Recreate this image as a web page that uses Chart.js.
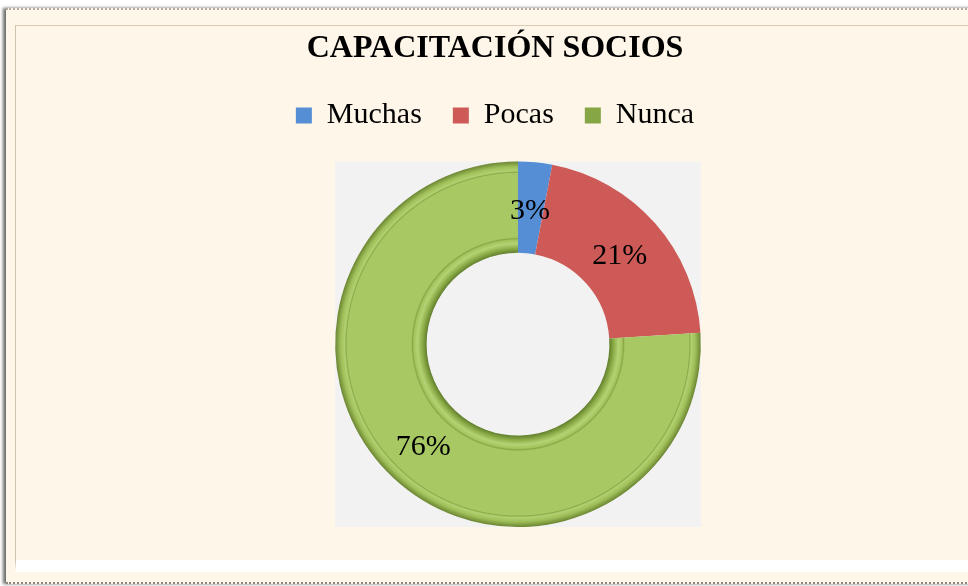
<!DOCTYPE html>
<html>
<head>
<meta charset="utf-8">
<script src="https://cdn.jsdelivr.net/npm/chart.js@4"></script>
<style>
	html, body { margin: 0; padding: 0; background: #ffffff; width: 968px; height: 586px; overflow: hidden; }
	#frame {
		position: absolute; left: 6px; top: 8px; width: 980px; height: 572px;
		background: #fef6e8;
		border-top: 2px dotted #b0aaa4;
		border-bottom: 2px dotted #8c8782;
		box-shadow: -3px 0 3px #6e6e6e;
	}
	#inner {
		position: absolute; left: 9px; top: 15px; width: 980px; height: 534px;
		border-left: 1px solid #cfc2ae; border-top: 1px solid #d8cab4;
		border-bottom: 12px solid #ffffff;
	}
	#chart-canvas { position: absolute; left: 0; top: 0; }
</style>
</head>
<body>
<div id="frame"><div id="inner"></div></div>
<canvas id="chart-canvas" width="968" height="586"></canvas>
<script>
const titleText = "CAPACITACIÓN SOCIOS";
const categories = ["Muchas", "Pocas", "Nunca"];
const percentValues = [3, 21, 76];
const sliceColors = ["#558ed5", "#cd5a57", "#a6c760"];
const legendColors = ["#558ed5", "#cd5a57", "#86a646"];

const serif = "'Liberation Serif', 'Times New Roman', serif";

// green ring gets a radial gradient for the bevelled look
function sliceColor(context)
{
	const i = context.dataIndex;
	if(i !== 2)
		return sliceColors[i];
	const area = context.chart.chartArea;
	if(!area)
		return sliceColors[i];
	const cx = (area.left + area.right) / 2;
	const cy = (area.top + area.bottom) / 2;
	const outer = Math.min(area.width, area.height) / 2;
	const inner = outer * 0.5;
	const g = context.chart.ctx.createRadialGradient(cx, cy, inner, cx, cy, outer);
	g.addColorStop(0.00, "#62802c");
	g.addColorStop(0.05, "#8eae4a");
	g.addColorStop(0.10, "#b4d273");
	g.addColorStop(0.14, "#a4c45e");
	g.addColorStop(0.155, "#8aa848");
	g.addColorStop(0.17, "#a7c862");
	g.addColorStop(0.87, "#a7c862");
	g.addColorStop(0.88, "#8caa4a");
	g.addColorStop(0.895, "#b2d070");
	g.addColorStop(0.94, "#a0c05a");
	g.addColorStop(1.00, "#6b8531");
	return g;
}

// gray square behind the ring, centred where the reference puts it
const plotAreaPlugin =
{
	id : "plotArea",
	afterLayout(chart)
	{
		const ca = chart.chartArea;
		ca.top += 21;
		const side = ca.bottom - ca.top;
		const cx = 518;
		ca.left = cx - side / 2;
		ca.right = cx + side / 2;
		ca.width = side;
		ca.height = side;
	},
	beforeDatasetsDraw(chart)
	{
		const ca = chart.chartArea;
		const c = chart.ctx;
		c.save();
		c.fillStyle = "#f2f2f2";
		c.fillRect(ca.left, ca.top, ca.width, ca.height);
		c.restore();
	}
};

const sliceLabelPlugin =
{
	id : "sliceLabels",
	afterDatasetsDraw(chart)
	{
		const c = chart.ctx;
		const meta = chart.getDatasetMeta(0);
		c.save();
		c.font = "30px " + serif;
		c.fillStyle = "#000000";
		c.textAlign = "center";
		c.textBaseline = "middle";
		meta.data.forEach((arc, i) =>
		{
			const p = arc.tooltipPosition();
			c.fillText(percentValues[i] + "%", p.x - 1, p.y + 3);
		});
		c.restore();
	}
};

new Chart(document.getElementById("chart-canvas").getContext("2d"),
{
	type : "doughnut",
	data :
	{
		labels : categories,
		datasets :
		[{
			data : percentValues,
			backgroundColor : sliceColor,
			borderWidth : 0,
			hoverOffset : 0
		}]
	},
	options :
	{
		responsive : false,
		animation : false,
		cutout : "50%",
		layout : { padding : { left : 22, right : 0, top : 0, bottom : 59 } },
		plugins :
		{
			tooltip : { enabled : false },
			title :
			{
				display : true,
				text : titleText,
				color : "#000000",
				font : { family : serif, size : 32, weight : "bold" },
				padding : { top : 30, bottom : 1 }
			},
			legend :
			{
				position : "top",
				labels :
				{
					color : "#000000",
					font : { family : serif, size : 30 },
					boxWidth : 16,
					boxHeight : 16,
					padding : 31,
					generateLabels(chart)
					{
						return categories.map((name, i) => ({
							text : name,
							fillStyle : legendColors[i],
							strokeStyle : legendColors[i],
							lineWidth : 0,
							fontColor : "#000000",
							hidden : false,
							index : i
						}));
					}
				}
			}
		}
	},
	plugins : [plotAreaPlugin, sliceLabelPlugin]
});
</script>
</body>
</html>
